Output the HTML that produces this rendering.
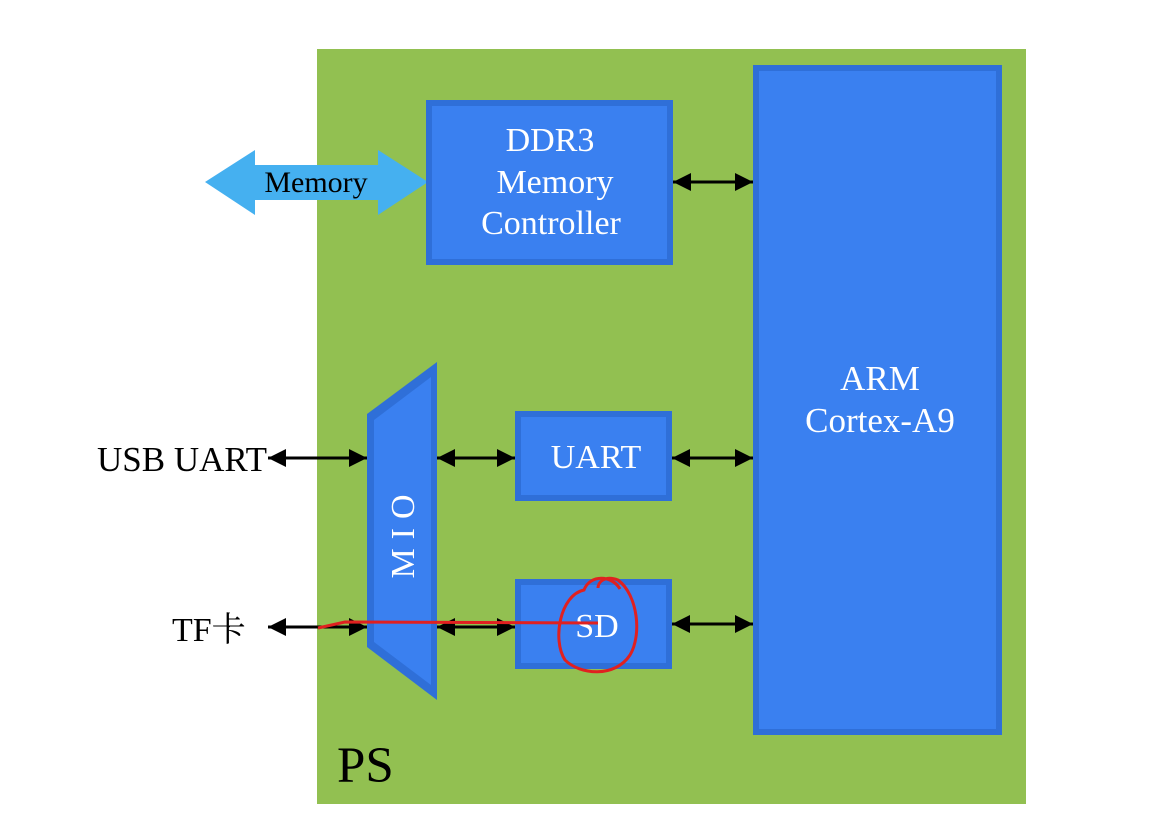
<!DOCTYPE html>
<html><head><meta charset="utf-8"><style>
html,body{margin:0;padding:0;background:#fff;}
svg{display:block;}
text{font-family:"Liberation Serif","Noto Serif CJK SC",serif;}
</style></head><body>
<svg width="1176" height="834" viewBox="0 0 1176 834" xmlns="http://www.w3.org/2000/svg">
<defs>
<marker id="ah" viewBox="0 0 10 10" refX="10" refY="5" markerWidth="6" markerHeight="6" orient="auto-start-reverse" markerUnits="strokeWidth">
<path d="M0,0 L10,5 L0,10 z" fill="#000"/></marker>
</defs>
<rect x="0" y="0" width="1176" height="834" fill="#fff"/>
<rect x="317" y="49" width="709" height="755" fill="#92c051"/>
<!-- Memory arrow -->
<polygon points="205,182 255,150 255,165 378,165 378,150 428,182 378,215 378,200 255,200 255,215" fill="#45b0f0"/>
<text x="316" y="192" font-size="30" text-anchor="middle" fill="#000">Memory</text>
<!-- DDR3 -->
<rect x="426" y="100" width="247" height="165" fill="#2f6fd8"/>
<rect x="432" y="106" width="235" height="153" fill="#3a80f0"/>
<text x="550" y="151" font-size="34" text-anchor="middle" fill="#fff">DDR3</text>
<text x="555" y="193" font-size="34" text-anchor="middle" fill="#fff">Memory</text>
<text x="551" y="234" font-size="34" text-anchor="middle" fill="#fff">Controller</text>
<!-- ARM -->
<rect x="753" y="65" width="249" height="670" fill="#2f6fd8"/>
<rect x="759" y="71" width="237" height="658" fill="#3a80f0"/>
<text x="880" y="390" font-size="35" text-anchor="middle" fill="#fff">ARM</text>
<text x="880" y="432" font-size="35" text-anchor="middle" fill="#fff">Cortex-A9</text>
<!-- UART -->
<rect x="515" y="411" width="157" height="90" fill="#2f6fd8"/>
<rect x="521" y="417" width="145" height="78" fill="#3a80f0"/>
<text x="596" y="468" font-size="34" text-anchor="middle" fill="#fff">UART</text>
<!-- SD -->
<rect x="515" y="579" width="157" height="90" fill="#2f6fd8"/>
<rect x="521" y="585" width="145" height="78" fill="#3a80f0"/>
<text x="597" y="637" font-size="34" text-anchor="middle" fill="#fff">SD</text>
<!-- MIO -->
<polygon points="367,414 437,362 437,700 367,647" fill="#2f6fd8"/>
<polygon points="374,420 431,377 431,685 374,642" fill="#3a80f0"/>
<text transform="translate(414,532) rotate(-90)" font-size="34" text-anchor="middle" fill="#fff" letter-spacing="9">MIO</text>
<!-- arrows -->
<g stroke="#000" stroke-width="3" fill="none">
<line x1="673" y1="182" x2="753" y2="182" marker-start="url(#ah)" marker-end="url(#ah)"/>
<line x1="268" y1="458" x2="367" y2="458" marker-start="url(#ah)" marker-end="url(#ah)"/>
<line x1="437" y1="458" x2="515" y2="458" marker-start="url(#ah)" marker-end="url(#ah)"/>
<line x1="672" y1="458" x2="753" y2="458" marker-start="url(#ah)" marker-end="url(#ah)"/>
<line x1="268" y1="627" x2="367" y2="627" marker-start="url(#ah)" marker-end="url(#ah)"/>
<line x1="437" y1="627" x2="515" y2="627" marker-start="url(#ah)" marker-end="url(#ah)"/>
<line x1="672" y1="624" x2="753" y2="624" marker-start="url(#ah)" marker-end="url(#ah)"/>
</g>
<text x="97" y="471" font-size="35" fill="#000">USB UART</text>
<text x="172" y="641" font-size="34" fill="#000">TF卡</text>
<text x="337" y="782" font-size="51" fill="#000">PS</text>
<!-- red annotation -->
<g stroke="#e02020" stroke-width="3" fill="none">
<path d="M318,628 L345,622 L598,623"/>
<path d="M620,589 C612,575 590,574 584,590 C560,595 552,640 565,660 C580,675 615,678 630,655 C642,635 638,595 618,580 C605,575 598,582 598,588"/>
</g>
</svg>
</body></html>
